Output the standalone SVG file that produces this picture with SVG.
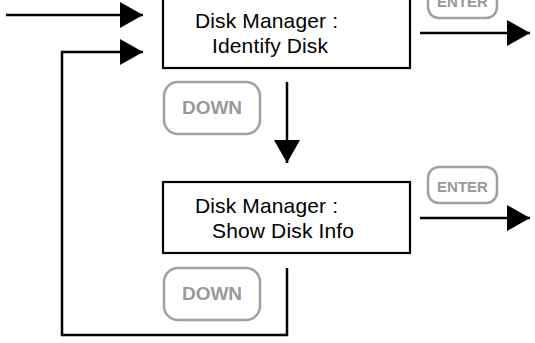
<svg xmlns="http://www.w3.org/2000/svg" width="535" height="343" viewBox="0 0 535 343">
<style>
.box{fill:#fff;stroke:#000;stroke-width:2.2}
.lbl{font-family:"Liberation Sans",Arial,sans-serif;font-size:21px;fill:#000}
.btn{fill:#fff;stroke:#a0a0a0;stroke-width:2.5}
.btxt{font-family:"Liberation Sans",Arial,sans-serif;font-weight:bold;fill:#999;text-anchor:middle}
.ln{fill:none;stroke:#000;stroke-width:2.5}
</style>
<defs>
<marker id="ah" markerUnits="userSpaceOnUse" markerWidth="23" markerHeight="26" refX="23" refY="13" orient="auto" viewBox="0 0 23 26">
<path d="M0,0 L23,13 L0,26 Z" fill="#000"/>
</marker>
</defs>
<rect width="535" height="343" fill="#fff"/>
<g id="connectors">
<line class="ln" x1="6" y1="15" x2="143" y2="15" marker-end="url(#ah)"/>
<polyline class="ln" points="287,268 287,335 62,335 62,52 143,52" marker-end="url(#ah)"/>
<line class="ln" x1="287" y1="82" x2="287" y2="163" marker-end="url(#ah)"/>
<line class="ln" x1="420" y1="33" x2="530" y2="33" marker-end="url(#ah)"/>
<line class="ln" x1="420" y1="218" x2="530" y2="218" marker-end="url(#ah)"/>
</g>
<g id="node-identify">
<rect class="box" x="163" y="-4" width="247" height="72"/>
<text class="lbl" x="195" y="28" textLength="143">Disk Manager :</text>
<text class="lbl" x="212" y="53" textLength="116">Identify Disk</text>
</g>
<g id="node-showinfo">
<rect class="box" x="163" y="182" width="247" height="71"/>
<text class="lbl" x="195" y="213" textLength="143">Disk Manager :</text>
<text class="lbl" x="212" y="238" textLength="142">Show Disk Info</text>
</g>
<g id="btn-enter-1">
<rect class="btn" x="428" y="-18" width="69" height="36" rx="11"/>
<text class="btxt" x="462.5" y="7" font-size="15">ENTER</text>
</g>
<g id="btn-down-1">
<rect class="btn" x="164" y="82" width="96" height="52" rx="14"/>
<text class="btxt" x="212" y="114" font-size="19">DOWN</text>
</g>
<g id="btn-enter-2">
<rect class="btn" x="428" y="167" width="69" height="36" rx="11"/>
<text class="btxt" x="462.5" y="192" font-size="15">ENTER</text>
</g>
<g id="btn-down-2">
<rect class="btn" x="164" y="268" width="96" height="52" rx="14"/>
<text class="btxt" x="212" y="300" font-size="19">DOWN</text>
</g>
</svg>
